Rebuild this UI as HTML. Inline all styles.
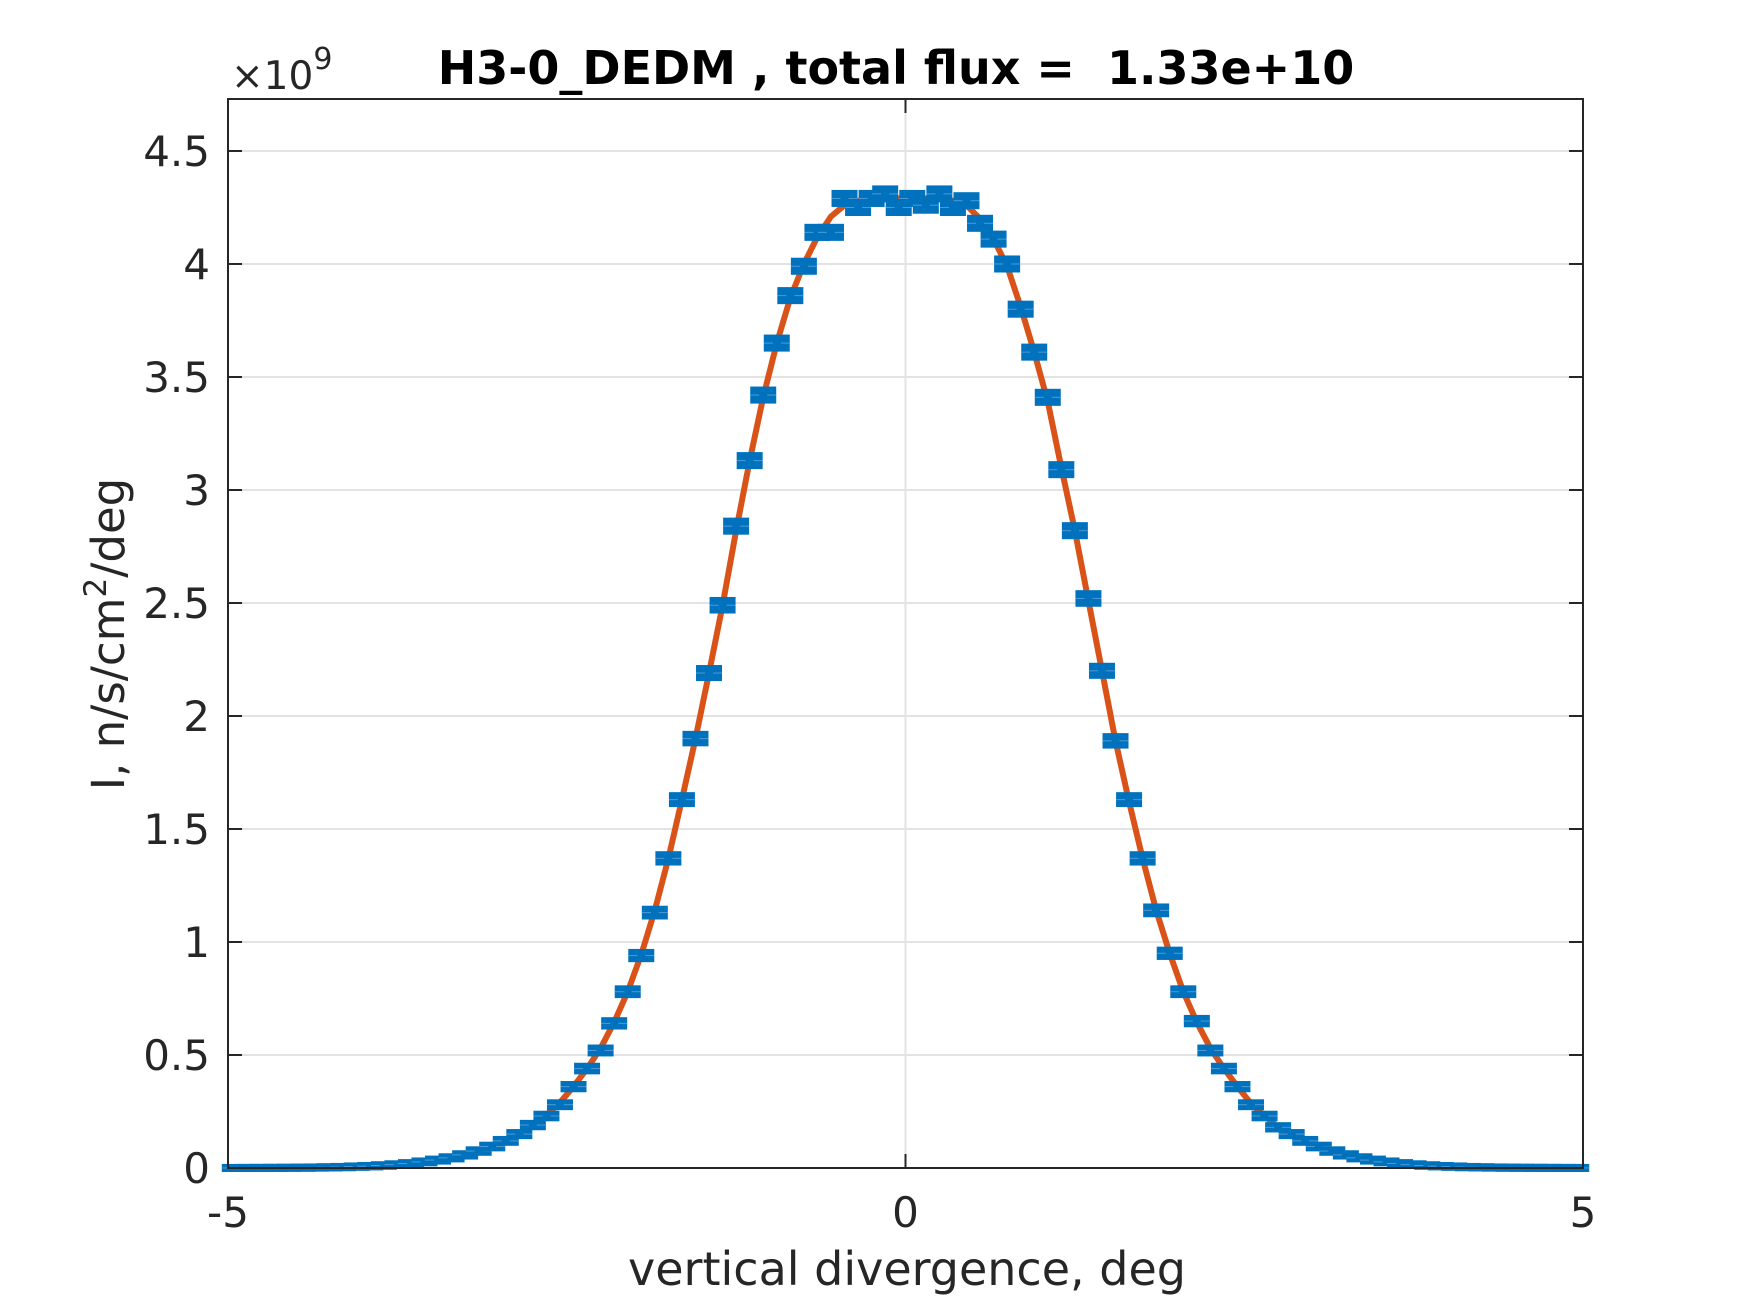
<!DOCTYPE html>
<html><head><meta charset="utf-8"><style>
html,body{margin:0;padding:0;background:#fff;}
svg{display:block;font-family:"DejaVu Sans","Liberation Sans",sans-serif;}
</style></head><body>
<svg id="chart" width="1750" height="1313" viewBox="0 0 1750 1313" xmlns="http://www.w3.org/2000/svg">
<rect x="0" y="0" width="1750" height="1313" fill="#fff"/>
<g id="grid"></g>
<g id="fit"></g>
<g id="marks"></g>
<g id="axes"></g>
<text x="896" y="84" text-anchor="middle" font-size="46" font-weight="bold" fill="#000" style="white-space:pre">H3-0_DEDM , total flux =&#160; 1.33e+10</text>
<text x="231" y="89" font-size="39" fill="#262626">×10<tspan dy="-20" font-size="30">9</tspan></text>
<text x="907" y="1285" text-anchor="middle" font-size="46" fill="#262626">vertical divergence, deg</text>
<text transform="translate(124,634) rotate(-90)" text-anchor="middle" font-size="45" fill="#262626">I, n/s/cm<tspan dy="-18" font-size="31">2</tspan><tspan dy="18">/deg</tspan></text>
</svg>
<script>
const xTicks=[-5,0,5];
const xTickLabels=["-5","0","5"];
const yTicks=[0,0.5,1,1.5,2,2.5,3,3.5,4,4.5];
const yTickLabels=["0","0.5","1","1.5","2","2.5","3","3.5","4","4.5"];
const dataValues=[0.0002,0.0003,0.0005,0.0007,0.001,0.0015,0.002,0.003,0.004,0.006,
0.008,0.011,0.015,0.020,0.027,0.035,0.045,0.058,0.075,0.095,
0.12,0.15,0.19,0.23,0.28,0.36,0.44,0.52,0.64,0.78,
0.94,1.13,1.37,1.63,1.90,2.19,2.49,2.84,3.13,3.42,
3.65,3.86,3.99,4.14,4.14,4.29,4.25,4.29,4.31,4.25,
4.29,4.26,4.31,4.25,4.28,4.18,4.11,4.00,3.80,3.61,
3.41,3.09,2.82,2.52,2.20,1.89,1.63,1.37,1.14,0.95,
0.78,0.65,0.52,0.44,0.36,0.28,0.23,0.18,0.15,0.12,
0.095,0.075,0.058,0.045,0.035,0.027,0.020,0.015,0.011,0.008,
0.006,0.004,0.003,0.002,0.0015,0.001,0.0007,0.0005,0.0003,0.0002];
const errValues=dataValues.map(v=>Math.min(0.02,Math.sqrt(v)*0.012));
const fitValues=[0.0002,0.0003,0.0005,0.0007,0.001,0.0015,0.002,0.003,0.004,0.006,
0.008,0.011,0.015,0.020,0.027,0.035,0.045,0.058,0.075,0.095,
0.12,0.15,0.19,0.235,0.29,0.36,0.44,0.53,0.645,0.78,
0.945,1.14,1.37,1.63,1.90,2.19,2.49,2.82,3.13,3.41,
3.65,3.85,4.00,4.12,4.21,4.26,4.28,4.29,4.29,4.29,
4.29,4.29,4.29,4.28,4.26,4.20,4.11,3.99,3.81,3.61,
3.39,3.10,2.82,2.51,2.20,1.89,1.62,1.37,1.14,0.95,
0.78,0.645,0.53,0.44,0.36,0.285,0.23,0.18,0.15,0.12,
0.095,0.075,0.058,0.045,0.035,0.027,0.020,0.015,0.011,0.008,
0.006,0.004,0.003,0.002,0.0015,0.001,0.0007,0.0005,0.0003,0.0002];
const xCenters=dataValues.map((v,i)=>-4.95+0.1*i);

const L=228,R=1583,T=99,B=1168,XMIN=-5,XMAX=5,YMIN=0,YMAX=4.73;
const sx=x=>L+(x-XMIN)/(XMAX-XMIN)*(R-L);
const sy=y=>B-(y-YMIN)/(YMAX-YMIN)*(B-T);
const NS="http://www.w3.org/2000/svg";
function mk(tag,parent,attrs){const e=document.createElementNS(NS,tag);for(const k in attrs)e.setAttribute(k,attrs[k]);parent.appendChild(e);return e;}
const grid=document.getElementById('grid'),axes=document.getElementById('axes'),fitG=document.getElementById('fit'),marks=document.getElementById('marks');

yTicks.forEach((t,i)=>{
  if(t>0){const g=mk('line',grid,{x1:L,x2:R,y1:sy(t),y2:sy(t),stroke:'#e3e3e3','stroke-width':2});
  
  }
  mk('line',axes,{x1:L,x2:L+14,y1:sy(t),y2:sy(t),stroke:'#262626','stroke-width':2});
  mk('line',axes,{x1:R-14,x2:R,y1:sy(t),y2:sy(t),stroke:'#262626','stroke-width':2});
  const tx=mk('text',axes,{x:L-18,y:sy(t)+15,'text-anchor':'end','font-size':42,fill:'#262626'});
  tx.textContent=yTickLabels[i];
  
  
});
xTicks.forEach((t,i)=>{
  if(t>XMIN&&t<XMAX){const g=mk('line',grid,{x1:sx(t),x2:sx(t),y1:T,y2:B,stroke:'#e3e3e3','stroke-width':2});
  
  }
  mk('line',axes,{x1:sx(t),x2:sx(t),y1:T,y2:T+14,stroke:'#262626','stroke-width':2});
  mk('line',axes,{x1:sx(t),x2:sx(t),y1:B-14,y2:B,stroke:'#262626','stroke-width':2});
  const tx=mk('text',axes,{x:sx(t),y:1227,'text-anchor':'middle','font-size':42,fill:'#262626'});
  tx.textContent=xTickLabels[i];
  
  
});
const frame=mk('rect',axes,{x:L,y:T,width:R-L,height:B-T,fill:'none',stroke:'#262626','stroke-width':2});



let d='';
fitValues.forEach((v,i)=>{d+=(i?'L':'M')+sx(xCenters[i]).toFixed(1)+','+sy(v).toFixed(1);});
const fp=mk('path',fitG,{d:d,fill:'none',stroke:'#D95319','stroke-width':6,'stroke-linejoin':'round'});



dataValues.forEach((v,i)=>{
  const cx=sx(xCenters[i]),yt=sy(v+errValues[i]),yb=sy(v-errValues[i]);
  const g=mk('g',marks,{});
  
  
  mk('rect',g,{x:cx-13,y:yt-4,width:26,height:(yb-yt)+8,fill:'#0072BD'});
  mk('line',g,{x1:cx-13,x2:cx-4,y1:(yt+yb)/2,y2:(yt+yb)/2,stroke:'#4d9ad6','stroke-width':1});
  mk('line',g,{x1:cx+4,x2:cx+13,y1:(yt+yb)/2,y2:(yt+yb)/2,stroke:'#4d9ad6','stroke-width':1});
});
</script>
</body></html>
